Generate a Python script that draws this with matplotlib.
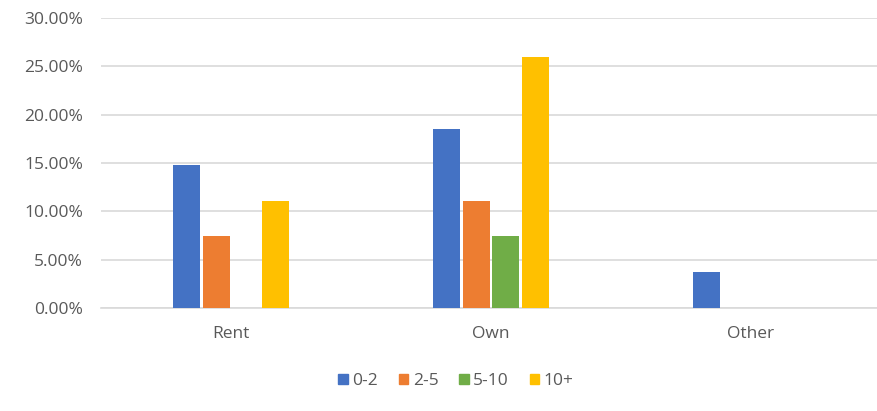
import matplotlib.pyplot as plt
import numpy as np
from matplotlib.ticker import PercentFormatter
from matplotlib.patches import Patch

# housing type vs. years
categories = ["Rent", "Own", "Other"]
series = ["0-2", "2-5", "5-10", "10+"]
v_0_2 = [14.81, 18.52, 3.70]
v_2_5 = [7.41, 11.11, 0.0]
v_5_10 = [0.0, 7.41, 0.0]
v_10p = [11.11, 25.93, 0.0]
values = [v_0_2, v_2_5, v_5_10, v_10p]
colors = ["#4472C4", "#ED7D31", "#70AD47", "#FFC000"]

plt.rcParams['font.family'] = ['Open Sans', 'DejaVu Sans']
txt = "#595959"

fig = plt.figure(figsize=(8.78, 4.11), dpi=100)
ax = fig.add_axes([101 / 878, 103 / 411, 780 / 878, 290 / 411])

x = np.arange(len(categories))
slot = 0.113
width = 0.104
for i, (vals, c) in enumerate(zip(values, colors)):
    ax.bar(x + (i - 1.5) * slot, vals, width, color=c, zorder=3)

ax.set_xlim(-0.5, 2.5)
ax.set_ylim(0, 30)
ax.set_yticks(np.arange(0, 31, 5))
ax.yaxis.set_major_formatter(PercentFormatter(decimals=2))
ax.set_xticks(x)
ax.set_xticklabels(categories)
ax.grid(axis='y', color="#D9D9D9", linewidth=1.2, zorder=0)
for s in ['top', 'right', 'left']:
    ax.spines[s].set_visible(False)
ax.spines['bottom'].set_color("#D9D9D9")
ax.spines['bottom'].set_linewidth(1.2)
ax.tick_params(axis='both', length=0, colors=txt, labelsize=12.5)
ax.tick_params(axis='x', pad=13)
ax.tick_params(axis='y', pad=13)

handles = [Patch(color=c, label=s) for c, s in zip(colors, series)]
fig.legend(handles=handles, loc='center', bbox_to_anchor=(456 / 878, 1 - 381 / 411),
           ncol=4, frameon=False, fontsize=12.5, labelcolor=txt,
           handlelength=0.55, handleheight=0.55, handletextpad=0.25, columnspacing=1.2)

fig.savefig("out.png", dpi=100, facecolor="white")
